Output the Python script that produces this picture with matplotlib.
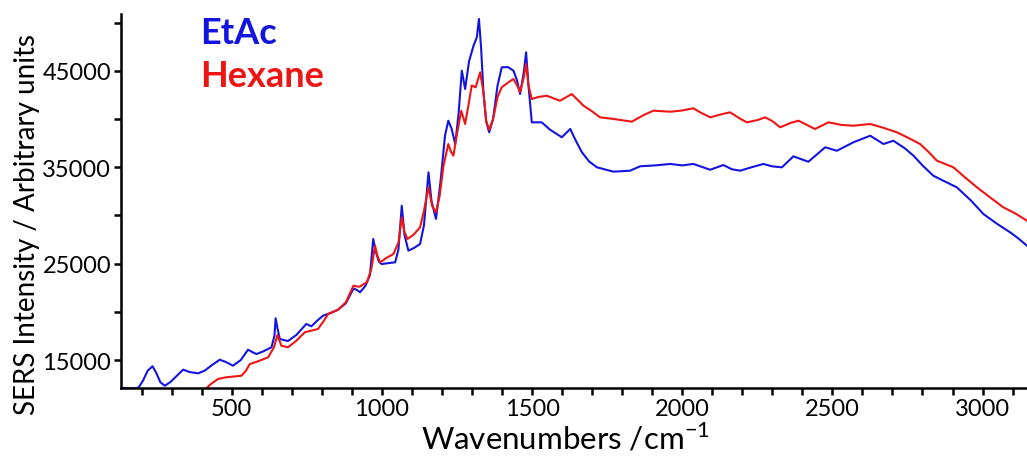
import matplotlib
matplotlib.use("Agg")
import matplotlib.pyplot as plt
from matplotlib.ticker import MultipleLocator

# SERS spectra of the same sample measured in two solvents
etac_x = [131, 150, 175, 190, 205, 220, 236, 248, 262, 277, 295, 315, 338, 360, 388,
          410, 435, 460, 480, 504, 530, 554, 570, 582, 605, 632, 642, 646, 652, 660,
          687, 715, 748, 765, 785, 804, 830, 854, 880, 905, 915, 927, 945, 960, 971,
          980, 990, 999, 1020, 1044, 1055, 1066, 1075, 1088, 1105, 1127, 1140, 1155,
          1165, 1180, 1195, 1210, 1221, 1232, 1244, 1255, 1266, 1277, 1290, 1305,
          1316, 1323, 1330, 1338, 1347, 1357, 1370, 1385, 1399, 1420, 1438, 1450,
          1460, 1472, 1480, 1488, 1499, 1532, 1560, 1599, 1627, 1645, 1666, 1690,
          1716, 1771, 1826, 1860, 1910, 1960, 2000, 2037, 2060, 2093, 2137, 2165,
          2193, 2230, 2270, 2300, 2332, 2370, 2420, 2476, 2515, 2570, 2626, 2670,
          2703, 2740, 2770, 2800, 2836, 2870, 2914, 2960, 3003, 3050, 3092, 3120, 3148]
etac_y = [12100, 12080, 12050, 12150, 12900, 13900, 14350, 13700, 12700, 12330, 12700,
          13300, 14000, 13750, 13620, 13900, 14500, 15030, 14800, 14410, 15000, 16070,
          15800, 15620, 15900, 16320, 17500, 19330, 18300, 17180, 16970, 17600, 18740,
          18500, 19100, 19600, 19900, 20220, 20900, 22400, 22300, 22030, 22700, 23800,
          27560, 26200, 25200, 24960, 25050, 25140, 26500, 31020, 28000, 26350, 26600,
          27040, 29000, 34480, 31500, 29640, 33500, 38300, 39840, 39000, 37420, 40500,
          45030, 43130, 46000, 47620, 48500, 50400, 47500, 42790, 39800, 38640, 40000,
          43500, 45380, 45400, 45030, 44000, 42610, 44800, 46940, 43500, 39670, 39670,
          38900, 38120, 38980, 37800, 36560, 35600, 35000, 34550, 34650, 35110, 35200,
          35350, 35200, 35350, 35100, 34750, 35240, 34800, 34650, 35000, 35350, 35100,
          35000, 36140, 35580, 37080, 36720, 37600, 38280, 37420, 37760, 37000, 36210,
          35200, 34130, 33600, 32930, 31600, 30150, 29100, 28250, 27600, 26860]

hexane_x = [415, 430, 454, 480, 510, 532, 545, 560, 590, 621, 640, 652, 665, 687, 715,
            743, 787, 805, 821, 854, 880, 905, 925, 950, 965, 977, 985, 994, 1015, 1038,
            1055, 1066, 1075, 1085, 1105, 1127, 1140, 1155, 1167, 1180, 1192, 1205,
            1221, 1230, 1238, 1250, 1264, 1277, 1290, 1299, 1312, 1327, 1338, 1347,
            1357, 1370, 1385, 1399, 1420, 1438, 1450, 1460, 1472, 1480, 1488, 1499,
            1520, 1549, 1593, 1632, 1671, 1700, 1726, 1771, 1832, 1870, 1904, 1960,
            2000, 2037, 2060, 2093, 2130, 2159, 2190, 2215, 2250, 2276, 2300, 2326,
            2360, 2387, 2442, 2487, 2530, 2570, 2626, 2670, 2714, 2750, 2792, 2820,
            2848, 2903, 2940, 2981, 3020, 3069, 3110, 3148]
hexane_y = [12060, 12500, 13030, 13200, 13300, 13370, 13800, 14580, 14900, 15280, 16300,
            17600, 16480, 16320, 17000, 17880, 18220, 19000, 19770, 20220, 21000, 22710,
            22600, 23070, 24500, 26860, 25800, 25140, 25600, 26000, 27200, 29810, 28300,
            27560, 28000, 28770, 30500, 32930, 31000, 30330, 32000, 35170, 37420, 36600,
            36210, 38500, 40880, 39500, 41800, 43500, 43300, 44860, 42790, 39800, 38900,
            40000, 42300, 43310, 43800, 44170, 43500, 42800, 44300, 45720, 43500, 42090,
            42300, 42430, 41910, 42610, 41400, 40800, 40190, 40020, 39740, 40400, 40880,
            40770, 40900, 41130, 40700, 40190, 40500, 40710, 40100, 39670, 39900, 40190,
            39800, 39150, 39600, 39840, 38980, 39670, 39400, 39320, 39500, 39100, 38640,
            38100, 37420, 36600, 35690, 35000, 34000, 32930, 32000, 30850, 30200, 29460]

series_names = ["EtAc", "Hexane"]
series_colors = ["#1414e0", "#ee1515"]

x_label = "Wavenumbers /cm$^{\\mathregular{-1}}$"
y_label = "SERS Intensity / Arbitrary units"

plt.rcParams["font.family"] = ["Lato", "DejaVu Sans"]
plt.rcParams["mathtext.fontset"] = "custom"
plt.rcParams["mathtext.rm"] = "Lato"

fig = plt.figure(figsize=(10.27, 4.64), dpi=100)
ax = fig.add_axes([0.1178, 0.1616, 0.8822, 0.8061])

ax.plot(etac_x, etac_y, color=series_colors[0], lw=1.5)
ax.plot(hexane_x, hexane_y, color=series_colors[1], lw=1.5)

ax.set_xlim(131, 3148)
ax.set_ylim(12094, 50915)

ax.xaxis.set_major_locator(MultipleLocator(500))
ax.xaxis.set_minor_locator(MultipleLocator(100))
ax.set_yticks([15000, 25000, 35000, 45000])
ax.set_yticks([20000, 30000, 40000, 50000], minor=True)

for side in ("top", "right"):
    ax.spines[side].set_visible(False)
for side in ("left", "bottom"):
    ax.spines[side].set_linewidth(1.8)

ax.tick_params(which="both", direction="out", width=1.8, colors="black")
ax.tick_params(which="major", length=5, labelsize=17, pad=2)
ax.tick_params(which="minor", length=5)

ax.set_xlabel(x_label, fontsize=22.5)
ax.xaxis.set_label_coords(0.49, -0.088)
ax.set_ylabel(y_label, fontsize=20)
ax.yaxis.set_label_coords(-0.089, 0.44)

ax.text(0.087, 0.922, series_names[0], transform=ax.transAxes, color=series_colors[0],
        fontsize=26, fontweight="bold", va="baseline", ha="left")
ax.text(0.087, 0.807, series_names[1], transform=ax.transAxes, color=series_colors[1],
        fontsize=26, fontweight="bold", va="baseline", ha="left")

fig.savefig("out.png", dpi=100)
